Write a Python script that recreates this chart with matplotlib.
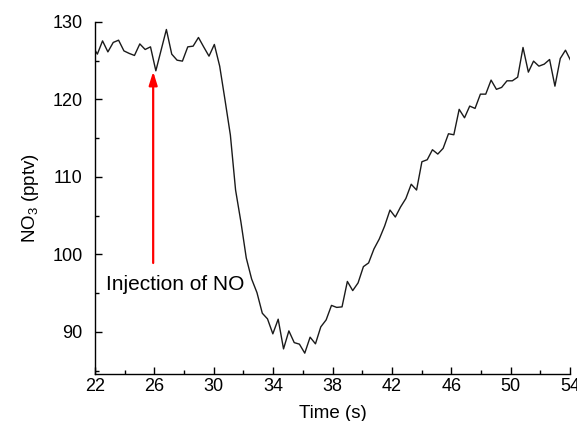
import matplotlib
matplotlib.use("Agg")
import matplotlib.pyplot as plt

plt.rcParams['font.family'] = ['Liberation Sans', 'DejaVu Sans']
plt.rcParams['mathtext.default'] = 'regular'

# Time (s) and NO3 (pptv)
time_s = [21.80, 22.16, 22.51, 22.87, 23.23, 23.59, 23.95, 24.31, 24.66, 25.02,
          25.38, 25.74, 26.10, 26.46, 26.81, 27.17, 27.53, 27.89, 28.25, 28.61,
          28.97, 29.32, 29.68, 30.04, 30.40, 30.76, 31.12, 31.47, 31.83, 32.19,
          32.55, 32.91, 33.27, 33.62, 33.98, 34.34, 34.70, 35.06, 35.42, 35.77,
          36.13, 36.49, 36.85, 37.21, 37.57, 37.93, 38.28, 38.64, 39.00, 39.36,
          39.72, 40.08, 40.43, 40.79, 41.15, 41.51, 41.87, 42.23, 42.58, 42.94,
          43.30, 43.66, 44.02, 44.38, 44.73, 45.09, 45.45, 45.81, 46.17, 46.53,
          46.89, 47.24, 47.60, 47.96, 48.32, 48.68, 49.04, 49.39, 49.75, 50.11,
          50.47, 50.83, 51.19, 51.54, 51.90, 52.26, 52.62, 52.98, 53.34, 53.69,
          54.05]
no3 = [127.0, 125.84, 127.55, 126.13, 127.35, 127.64, 126.26, 125.93, 125.67, 127.16,
       126.44, 126.78, 123.69, 126.4, 129.02, 125.84, 125.06, 124.94, 126.78, 126.87,
       127.99, 126.78, 125.58, 127.09, 124.29, 119.91, 115.40, 108.31, 104.19, 99.55,
       96.84, 95.08, 92.42, 91.69, 89.76, 91.65, 87.82, 90.14, 88.63, 88.43,
       87.27, 89.33, 88.47, 90.66, 91.56, 93.43, 93.17, 93.24, 96.52, 95.34,
       96.33, 98.43, 98.91, 100.71, 102.0, 103.67, 105.73, 104.83, 106.12, 107.22,
       109.06, 108.31, 111.96, 112.22, 113.51, 112.95, 113.69, 115.57, 115.44, 118.72,
       117.63, 119.14, 118.84, 120.68, 120.68, 122.49, 121.30, 121.55, 122.40, 122.40,
       122.87, 126.70, 123.52, 124.94, 124.29, 124.55, 125.15, 121.71, 125.28, 126.35,
       124.97]

x_major = [22, 26, 30, 34, 38, 42, 46, 50, 54]
x_minor = [24, 28, 32, 36, 40, 44, 48, 52]
y_major = [90, 100, 110, 120, 130]
y_minor = [85, 95, 105, 115, 125]

# NO injection marker
inj_time = 25.92
inj_tip = 123.6
inj_tail = 98.9
inj_label = "Injection of NO"

fig = plt.figure(figsize=(5.77, 4.21), dpi=100)
ax = fig.add_axes([0.1646, 0.112, 0.8234, 0.836])

ax.plot(time_s, no3, color='#1a1a1a', lw=1.0)

ax.annotate('', xy=(inj_time, inj_tip), xytext=(inj_time, inj_tail),
            arrowprops=dict(arrowstyle='-|>,head_length=0.8,head_width=0.25',
                            color='red', lw=1.6, mutation_scale=10,
                            shrinkA=0, shrinkB=0))
ax.text(27.42, 96.1, inj_label, ha='center', va='center', fontsize=15)

ax.set_xlim(22, 54)
ax.set_ylim(84.6, 130)
ax.set_xticks(x_major)
ax.set_xticks(x_minor, minor=True)
ax.set_yticks(y_major)
ax.set_yticks(y_minor, minor=True)

for s in ['top', 'right']:
    ax.spines[s].set_visible(False)
for s in ['left', 'bottom']:
    ax.spines[s].set_linewidth(1.0)

ax.tick_params(which='both', direction='in', width=1.0, labelsize=13)
ax.tick_params(which='major', length=5)
ax.tick_params(which='minor', length=2.8)
ax.tick_params(axis='x', pad=3)
ax.tick_params(axis='y', pad=9)

ax.set_xlabel('Time (s)', fontsize=13.5, labelpad=7)
ax.set_ylabel('NO$_3$ (pptv)', fontsize=13.5, labelpad=8)

fig.savefig('out.png', dpi=100)
